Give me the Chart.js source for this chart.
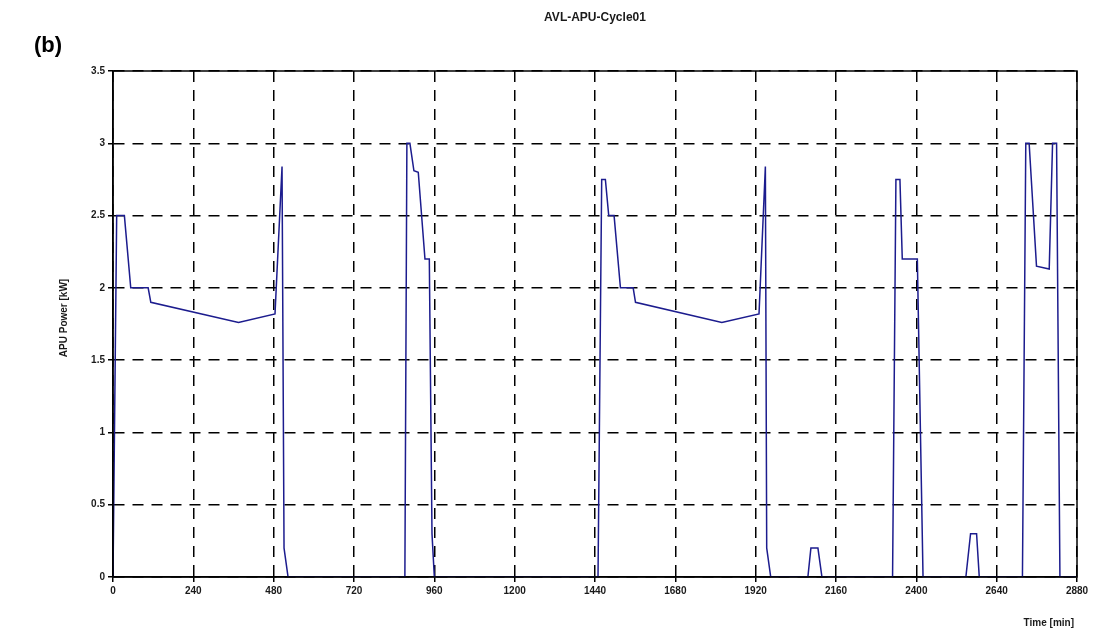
<!DOCTYPE html>
<html>
<head>
<meta charset="utf-8">
<title>AVL-APU-Cycle01</title>
<script src="https://cdn.jsdelivr.net/npm/chart.js@4/dist/chart.umd.min.js"></script>
<style>
  html, body { margin: 0; padding: 0; background: #fff; }
  #wrap { width: 1096px; height: 635px; position: relative; }
</style>
</head>
<body>
<div id="wrap"><canvas id="apuChart" width="1096" height="635"></canvas></div>
<script>
// Time [min] and APU power [kW] (one line per operating block)
const timeMin = [
  0, 11, 34, 53, 105, 113, 375, 484, 505, 511, 523,
  872, 878, 887, 899, 912, 932, 945, 953, 960,
  1449, 1460, 1471, 1481, 1497, 1516, 1554, 1561, 1819, 1930, 1949, 1953, 1965,
  2076, 2085, 2106, 2118,
  2329, 2339, 2351, 2358, 2403, 2420,
  2548, 2562, 2580, 2588,
  2717, 2727, 2737, 2759, 2797, 2807, 2819, 2829,
  2880
];
const apuPower = [
  0, 2.5, 2.5, 2.0, 2.0, 1.9, 1.76, 1.82, 2.84, 0.2, 0,
  0, 3.0, 3.0, 2.81, 2.8, 2.2, 2.2, 0.3, 0,
  0, 2.75, 2.75, 2.5, 2.5, 2.0, 2.0, 1.9, 1.76, 1.82, 2.84, 0.2, 0,
  0, 0.2, 0.2, 0,
  0, 2.75, 2.75, 2.2, 2.2, 0,
  0, 0.3, 0.3, 0,
  0, 3.0, 3.0, 2.15, 2.13, 3.0, 3.0, 0,
  0
];
const xTicks = [0, 240, 480, 720, 960, 1200, 1440, 1680, 1920, 2160, 2400, 2640, 2880];
const yTicks = [0, 0.5, 1, 1.5, 2, 2.5, 3, 3.5];

const points = timeMin.map((t, i) => ({ x: t, y: apuPower[i] }));

// Text around the plot + solid frame
const decorations = {
  id: 'decorations',
  afterDraw(chart) {
    const ctx = chart.ctx;
    const area = chart.chartArea;
    ctx.save();
    ctx.strokeStyle = '#000';
    ctx.lineWidth = 1.5;
    ctx.setLineDash([]);
    ctx.strokeRect(area.left, area.top, area.right - area.left, area.bottom - area.top);

    ctx.fillStyle = '#000';
    ctx.font = 'bold 22px "Liberation Sans", Arial, sans-serif';
    ctx.textAlign = 'left';
    ctx.textBaseline = 'middle';
    ctx.fillText('(b)', 34, 46);

    ctx.fillStyle = '#1a1a1a';
    ctx.font = 'bold 12px "Liberation Sans", Arial, sans-serif';
    ctx.textAlign = 'center';
    ctx.fillText('AVL-APU-Cycle01', 595, 18);

    ctx.font = 'bold 10px "Liberation Sans", Arial, sans-serif';
    ctx.textAlign = 'right';
    ctx.fillText('Time [min]', 1074, 623);

    ctx.translate(64, 318);
    ctx.rotate(-Math.PI / 2);
    ctx.textAlign = 'center';
    ctx.fillText('APU Power [kW]', 0, 0);
    ctx.restore();
  }
};

const tickFont = { family: '"Liberation Sans", Arial, sans-serif', size: 10, weight: 'bold' };

new Chart(document.getElementById('apuChart'), {
  type: 'line',
  data: {
    datasets: [{
      data: points,
      borderColor: '#1c1c8e',
      borderWidth: 1.5,
      pointRadius: 0,
      tension: 0,
      fill: false
    }]
  },
  options: {
    responsive: false,
    animation: false,
    layout: { padding: { left: 0, right: 19, top: 71, bottom: 0 } },
    plugins: {
      legend: { display: false },
      title: { display: false },
      tooltip: { enabled: false }
    },
    scales: {
      x: {
        type: 'linear',
        min: 0,
        max: 2880,
        afterBuildTicks: scale => { scale.ticks = xTicks.map(v => ({ value: v })); },
        afterFit: scale => { scale.height = 58; },
        ticks: { color: '#1a1a1a', font: tickFont, padding: 3, maxRotation: 0, callback: v => String(v) },
        grid: { color: '#000', lineWidth: 1.5, tickLength: 5, tickColor: '#000' },
        border: { color: '#000', width: 1.5, dash: [11, 8] }
      },
      y: {
        min: 0,
        max: 3.5,
        afterBuildTicks: scale => { scale.ticks = yTicks.map(v => ({ value: v })); },
        afterFit: scale => { scale.width = 113; },
        ticks: { color: '#1a1a1a', font: tickFont, padding: 3, callback: v => String(v) },
        grid: { color: '#000', lineWidth: 1.5, tickLength: 5, tickColor: '#000' },
        border: { color: '#000', width: 1.5, dash: [11, 8] }
      }
    }
  },
  plugins: [decorations]
});
</script>
</body>
</html>
